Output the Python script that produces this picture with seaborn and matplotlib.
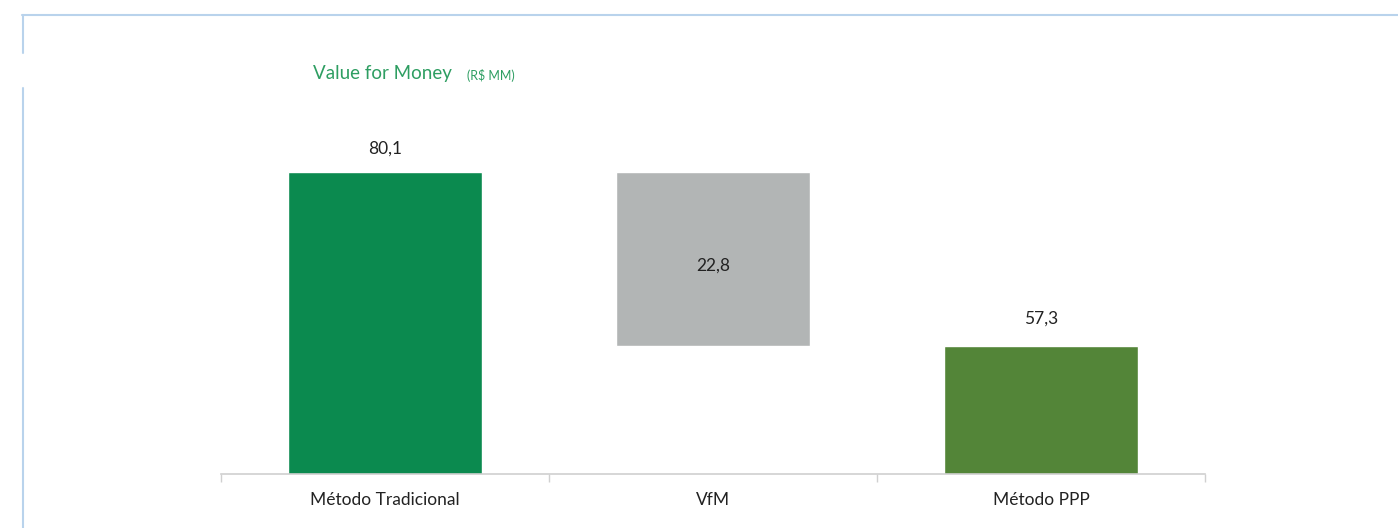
import matplotlib
matplotlib.use("Agg")
import matplotlib.pyplot as plt
from matplotlib.lines import Line2D
import seaborn as sns
import pandas as pd

# ---- data ----
categories = ["Método Tradicional", "VfM", "Método PPP"]
values = [80.1, 22.8, 57.3]
value_labels = ["80,1", "22,8", "57,3"]
colors = ["#0b8a4f", "#b2b5b5", "#538538"]
title = "Value for Money"
unit = "(R$ MM)"

sns.set_theme(style="white")
plt.rcParams["font.family"] = ["Lato", "DejaVu Sans"]

fig = plt.figure(figsize=(13.98, 5.28), dpi=100)
ax = fig.add_axes([221 / 1398, 1 - 474.3 / 528, 984 / 1398, (474.3 - 96.5) / 528])

totals = pd.DataFrame({"cat": [categories[0], categories[2]], "val": [values[0], values[2]]})
sns.barplot(data=totals, x="cat", y="val", order=categories, hue="cat",
            palette={categories[0]: colors[0], categories[2]: colors[2]},
            width=0.589, saturation=1, legend=False, ax=ax)

vfm_bottom = values[0] - values[1]
diff = pd.DataFrame({"cat": [categories[1]], "val": [values[1]]})
sns.barplot(data=diff, x="cat", y="val", order=categories, color=colors[1],
            width=0.589, saturation=1, bottom=vfm_bottom, ax=ax)

ax.set_ylim(40.5, 90)
ax.set_xlim(-0.5, 2.5)
ax.set_xlabel("")
ax.set_ylabel("")
ax.set_yticks([])
for s in ["top", "right", "left"]:
    ax.spines[s].set_visible(False)
ax.spines["bottom"].set_color("#d0d0d0")
ax.spines["bottom"].set_linewidth(1.2)

ax.set_xticks([0, 1, 2])
ax.set_xticklabels(categories, fontsize=12.5, color="#222222")
ax.set_xticks([-0.5, 0.5, 1.5, 2.5], minor=True)
ax.tick_params(axis="x", which="major", length=0, pad=12.5)
ax.tick_params(axis="x", which="minor", length=6, width=1, color="#d0d0d0", bottom=True)

# value labels
lab_kw = dict(ha="center", va="center", fontsize=12.5, color="#222222", textcoords="offset points")
ax.annotate(value_labels[0], (0, values[0]), xytext=(0, 17), **lab_kw)
ax.annotate(value_labels[1], (1, vfm_bottom + values[1] / 2), xytext=(0, -5), **lab_kw)
ax.annotate(value_labels[2], (2, values[2]), xytext=(0, 19.5), **lab_kw)

# title
fig.text(313 / 1398, 1 - 74 / 528, title, fontsize=13.5, color="#2e9e62", ha="left", va="center")
fig.text(467 / 1398, 1 - 75 / 528, unit, fontsize=9, color="#2e9e62", ha="left", va="center")

# light blue frame lines
bc = "#b9d3ec"
fig.add_artist(Line2D([22 / 1398, 1.0], [1 - 15 / 528, 1 - 15 / 528], color=bc, lw=1.5, transform=fig.transFigure))
fig.add_artist(Line2D([23 / 1398, 23 / 1398], [1 - 15 / 528, 1 - 53 / 528], color=bc, lw=1.5, transform=fig.transFigure))
fig.add_artist(Line2D([23 / 1398, 23 / 1398], [1 - 88 / 528, 0.0], color=bc, lw=1.5, transform=fig.transFigure))

fig.savefig("out.png", dpi=100, facecolor="white")
